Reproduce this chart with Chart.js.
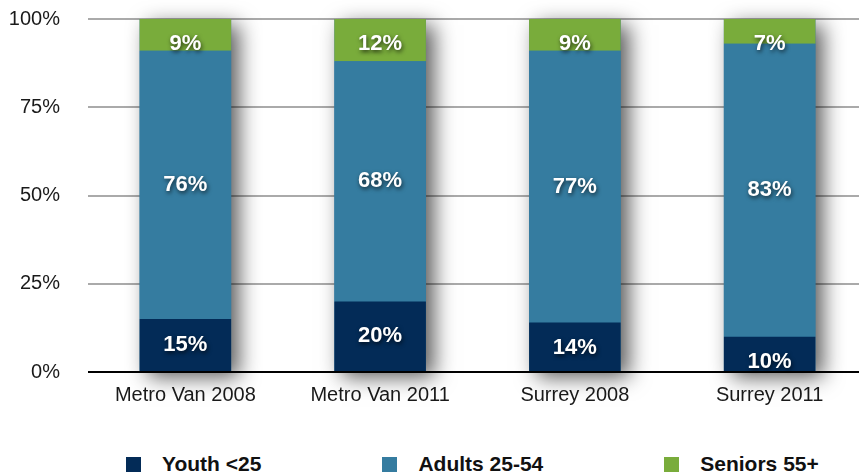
<!DOCTYPE html>
<html lang="en">
<head>
  <meta charset="UTF-8">
  <title>Age groups</title>
  <script src="https://cdn.jsdelivr.net/npm/chart.js@4.4.0/dist/chart.umd.min.js"></script>
  <style>
    body {
      margin: 0;
      background: #fff;
      overflow: hidden;
      font-family: 'Liberation Sans', Arial, sans-serif;
    }
    .wrap {
      position: relative;
      width: 870px;
      height: 475px;
    }
    .chart-box {
      position: absolute;
      left: 0;
      top: 0;
      width: 870px;
      height: 420px;
    }
    #legend {
      position: absolute;
      left: 126px;
      top: 452px;
      display: flex;
      align-items: center;
      gap: 121px;
    }
    #legend .item {
      display: flex;
      align-items: center;
      font-weight: bold;
      font-size: 21px;
      color: #111;
    }
    #legend .box {
      width: 15px;
      height: 15px;
      margin-right: 21px;
    }
  </style>
</head>
<body>

<div class="wrap">
  <div class="chart-box">
    <canvas id="ageChart"></canvas>
  </div>
  <div id="legend"></div>
</div>

<script>
  // data
  const categories = ['Metro Van 2008', 'Metro Van 2011', 'Surrey 2008', 'Surrey 2011'];
  const youth = [15, 20, 14, 10];
  const adults = [76, 68, 77, 83];
  const seniors = [9, 12, 9, 7];
  const seriesNames = ['Youth <25', 'Adults 25-54', 'Seniors 55+'];
  const yTicks = [0, 25, 50, 75, 100];

  const colors = ['#032b57', '#357ca0', '#79ac3b'];
  const axisFont = { family: "'Liberation Sans', Arial, sans-serif", size: 20 };

  // shadow behind each whole stack
  const stackShadow = {
    id: 'stackShadow',
    beforeDatasetsDraw(chart) {
      const ctx = chart.ctx;
      const first = chart.getDatasetMeta(0).data;
      const last = chart.getDatasetMeta(chart.data.datasets.length - 1).data;
      ctx.save();
      ctx.shadowColor = 'rgba(0,0,0,0.65)';
      ctx.shadowBlur = 20;
      ctx.shadowOffsetX = 8;
      ctx.shadowOffsetY = 6;
      ctx.fillStyle = '#357ca0';
      first.forEach((bar, i) => {
        const top = last[i].y;
        const bottom = bar.base;
        ctx.fillRect(bar.x - bar.width / 2, top, bar.width, bottom - top);
      });
      ctx.restore();
    }
  };

  // white value labels
  const valueLabels = {
    id: 'valueLabels',
    afterDatasetsDraw(chart) {
      const ctx = chart.ctx;
      ctx.save();
      ctx.font = "bold 22px 'Liberation Sans', Arial, sans-serif";
      ctx.fillStyle = '#fff';
      ctx.textAlign = 'center';
      ctx.textBaseline = 'middle';
      ctx.shadowColor = 'rgba(0,0,0,0.7)';
      ctx.shadowBlur = 4;
      ctx.shadowOffsetX = 1;
      ctx.shadowOffsetY = 2;
      chart.data.datasets.forEach((ds, d) => {
        chart.getDatasetMeta(d).data.forEach((bar, i) => {
          const mid = (bar.y + bar.base) / 2;
          const y = Math.max(mid, bar.y + 25);
          ctx.fillText(ds.data[i] + '%', bar.x, y);
        });
      });
      ctx.restore();
    }
  };

  const seriesData = [youth, adults, seniors];

  const chart = new Chart(document.getElementById('ageChart'), {
    type: 'bar',
    data: {
      labels: categories,
      datasets: seriesNames.map((name, k) => ({
        label: name,
        data: seriesData[k],
        backgroundColor: colors[k],
        borderWidth: 0,
        barPercentage: 0.47,
        categoryPercentage: 1
      }))
    },
    options: {
      responsive: true,
      maintainAspectRatio: false,
      animation: false,
      layout: {
        autoPadding: false,
        padding: { left: 8, right: 3, top: 19, bottom: 5 }
      },
      plugins: {
        legend: { display: false },
        tooltip: { enabled: false }
      },
      scales: {
        x: {
          stacked: true,
          grid: { display: false },
          border: { display: false },
          afterFit(axis) {
            axis.height = 43;
          },
          ticks: {
            color: '#1a1a1a',
            padding: 3,
            font: axisFont
          }
        },
        y: {
          stacked: true,
          min: yTicks[0],
          max: yTicks[yTicks.length - 1],
          afterBuildTicks(axis) {
            axis.ticks = yTicks.map(v => ({ value: v }));
          },
          afterFit(axis) {
            axis.width = 80;
          },
          border: { display: false },
          grid: {
            drawTicks: true,
            tickLength: 24,
            tickColor: 'transparent',
            lineWidth: 2,
            color: c => c.tick.value === 0 ? '#000' : '#aaaaaa'
          },
          ticks: {
            color: '#1a1a1a',
            padding: 4,
            font: axisFont,
            callback: v => v + '%'
          }
        }
      }
    },
    plugins: [stackShadow, valueLabels]
  });

  // legend
  const legendEl = document.getElementById('legend');
  seriesNames.forEach((name, k) => {
    const item = document.createElement('div');
    item.className = 'item';
    const box = document.createElement('span');
    box.className = 'box';
    box.style.background = colors[k];
    const txt = document.createElement('span');
    txt.textContent = name;
    item.appendChild(box);
    item.appendChild(txt);
    legendEl.appendChild(item);
  });
</script>

</body>
</html>
